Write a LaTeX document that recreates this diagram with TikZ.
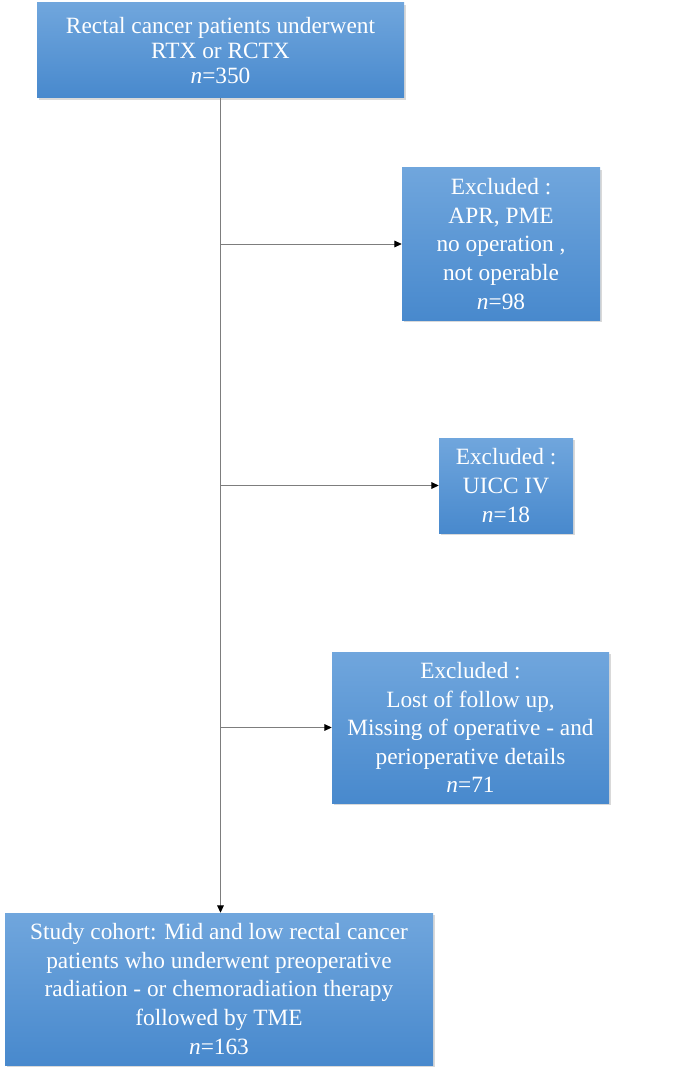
\documentclass[tikz,border=0pt]{standalone}
\usepackage{fontspec}
\setmainfont{Liberation Serif}
\usetikzlibrary{arrows.meta,shadows}
\definecolor{boxtop}{RGB}{112,166,221}
\definecolor{boxbot}{RGB}{72,137,205}
\definecolor{linegray}{RGB}{125,125,125}
\tikzset{
	flowbox/.style={rectangle, top color=boxtop, bottom color=boxbot, text=white, align=center, inner sep=0pt,
		font=\fontsize{17.5}{21.4}\selectfont,
		drop shadow={shadow xshift=1.2pt, shadow yshift=-1.2pt, opacity=0.3}},
	flowline/.style={draw=linegray, line width=0.6pt},
	flowarrow/.style={flowline, -{Triangle[length=5.5pt,width=5pt,color=black]}},
}

\begin{document}
\begin{tikzpicture}[x=0.75pt,y=-0.75pt]
			%%%%% START %%%%%
			\useasboundingbox (0,0) rectangle (685,1073);
			
			\node[flowbox, minimum width=275.25pt, minimum height=71.25pt, font=\fontsize{17.5}{18.75}\selectfont] (cohortall) at (220.5,50.5)
				{Rectal cancer patients underwent\\RTX or RCTX\\\textit{n}=350};
			
			\node[flowbox, minimum width=148.5pt, minimum height=114pt] (exclapr) at (501,244)
				{Excluded :\\APR, PME\\no operation ,\\not operable\\\textit{n}=98};
			
			\node[flowbox, minimum width=100.5pt, minimum height=71.25pt] (excluicc) at (506,485.5)
				{Excluded :\\UICC IV\\\textit{n}=18};
			
			\node[flowbox, minimum width=207.75pt, minimum height=113.25pt] (excllost) at (470.5,727.5)
				{Excluded :\\Lost of follow up,\\Missing of operative - and\\perioperative details\\\textit{n}=71};
			
			\node[flowbox, minimum width=321pt, minimum height=114pt] (cohortstudy) at (219,989)
				{Study cohort: Mid and low rectal cancer\\patients who underwent preoperative\\radiation - or chemoradiation therapy\\followed by TME\\\textit{n}=163};
			
			%% trunk and branches
			\draw[flowarrow] (cohortall.south) -- (cohortall.south |- cohortstudy.north);
			\draw[flowarrow] (cohortall.south |- exclapr.west) -- (exclapr.west);
			\draw[flowarrow] (cohortall.south |- excluicc.west) -- (excluicc.west);
			\draw[flowarrow] (cohortall.south |- excllost.west) -- (excllost.west);
			
			%%%%% END %%%%%
		\end{tikzpicture}
\end{document}
